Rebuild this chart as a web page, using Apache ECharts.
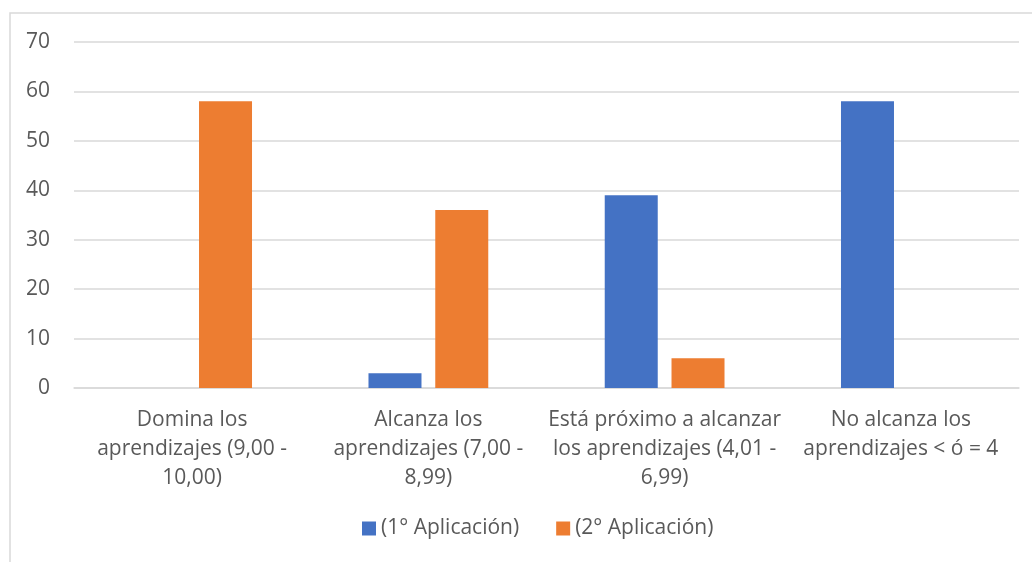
<!DOCTYPE html>
<html>
<head>
<meta charset="utf-8">
<script src="https://cdn.jsdelivr.net/npm/echarts@6/dist/echarts.min.js"></script>
<style>
html,body{margin:0;padding:0;background:#fff;}
#chart{width:1032px;height:562px;}
</style>
</head>
<body>
<div id="chart"></div>
<script>
const categories = [
  "Domina los\naprendizajes (9,00 -\n10,00)",
  "Alcanza los\naprendizajes (7,00 -\n8,99)",
  "Está próximo a alcanzar\nlos aprendizajes (4,01 -\n6,99)",
  "No alcanza los\naprendizajes < ó = 4"
];
const seriesNames = ["(1° Aplicación)", "(2° Aplicación)"];
const aplicacion1 = [0, 3, 39, 58];
const aplicacion2 = [58, 36, 6, 0];
const yTicks = { min: 0, max: 70, interval: 10 };

const chart = echarts.init(document.getElementById('chart'));
const font = "'Open Sans', sans-serif";
chart.setOption({
  animation: false,
  textStyle: { fontFamily: font },
  graphic: [{
    type: 'rect',
    shape: { x: 10, y: 13, width: 1100, height: 700 },
    style: { fill: 'none', stroke: '#d9d9d9', lineWidth: 1.5 },
    silent: true
  }],
  grid: { left: 74, right: 13, top: 42, bottom: 174 },
  legend: {
    data: seriesNames,
    bottom: 18,
    left: 357,
    itemWidth: 14,
    itemHeight: 14,
    itemGap: 37,
    icon: 'rect',
    textStyle: { color: '#595959', fontSize: 21, fontFamily: font }
  },
  xAxis: {
    type: 'category',
    data: categories,
    axisTick: { show: false },
    axisLine: { lineStyle: { color: '#d9d9d9', width: 1.5 } },
    axisLabel: {
      interval: 0,
      color: '#595959',
      fontSize: 21,
      lineHeight: 29,
      margin: 18,
      fontFamily: font
    }
  },
  yAxis: {
    type: 'value',
    min: yTicks.min,
    max: yTicks.max,
    interval: yTicks.interval,
    axisLine: { show: false },
    axisTick: { show: false },
    splitLine: { lineStyle: { color: '#d9d9d9', width: 1.5 } },
    axisLabel: { color: '#595959', fontSize: 21, margin: 24, fontFamily: font }
  },
  series: [
    {
      name: seriesNames[0],
      type: 'bar',
      data: aplicacion1,
      barWidth: 53,
      barGap: '26%',
      itemStyle: { color: '#4472C4' }
    },
    {
      name: seriesNames[1],
      type: 'bar',
      data: aplicacion2,
      barWidth: 53,
      barGap: '26%',
      itemStyle: { color: '#ED7D31' }
    }
  ]
});
</script>
</body>
</html>
